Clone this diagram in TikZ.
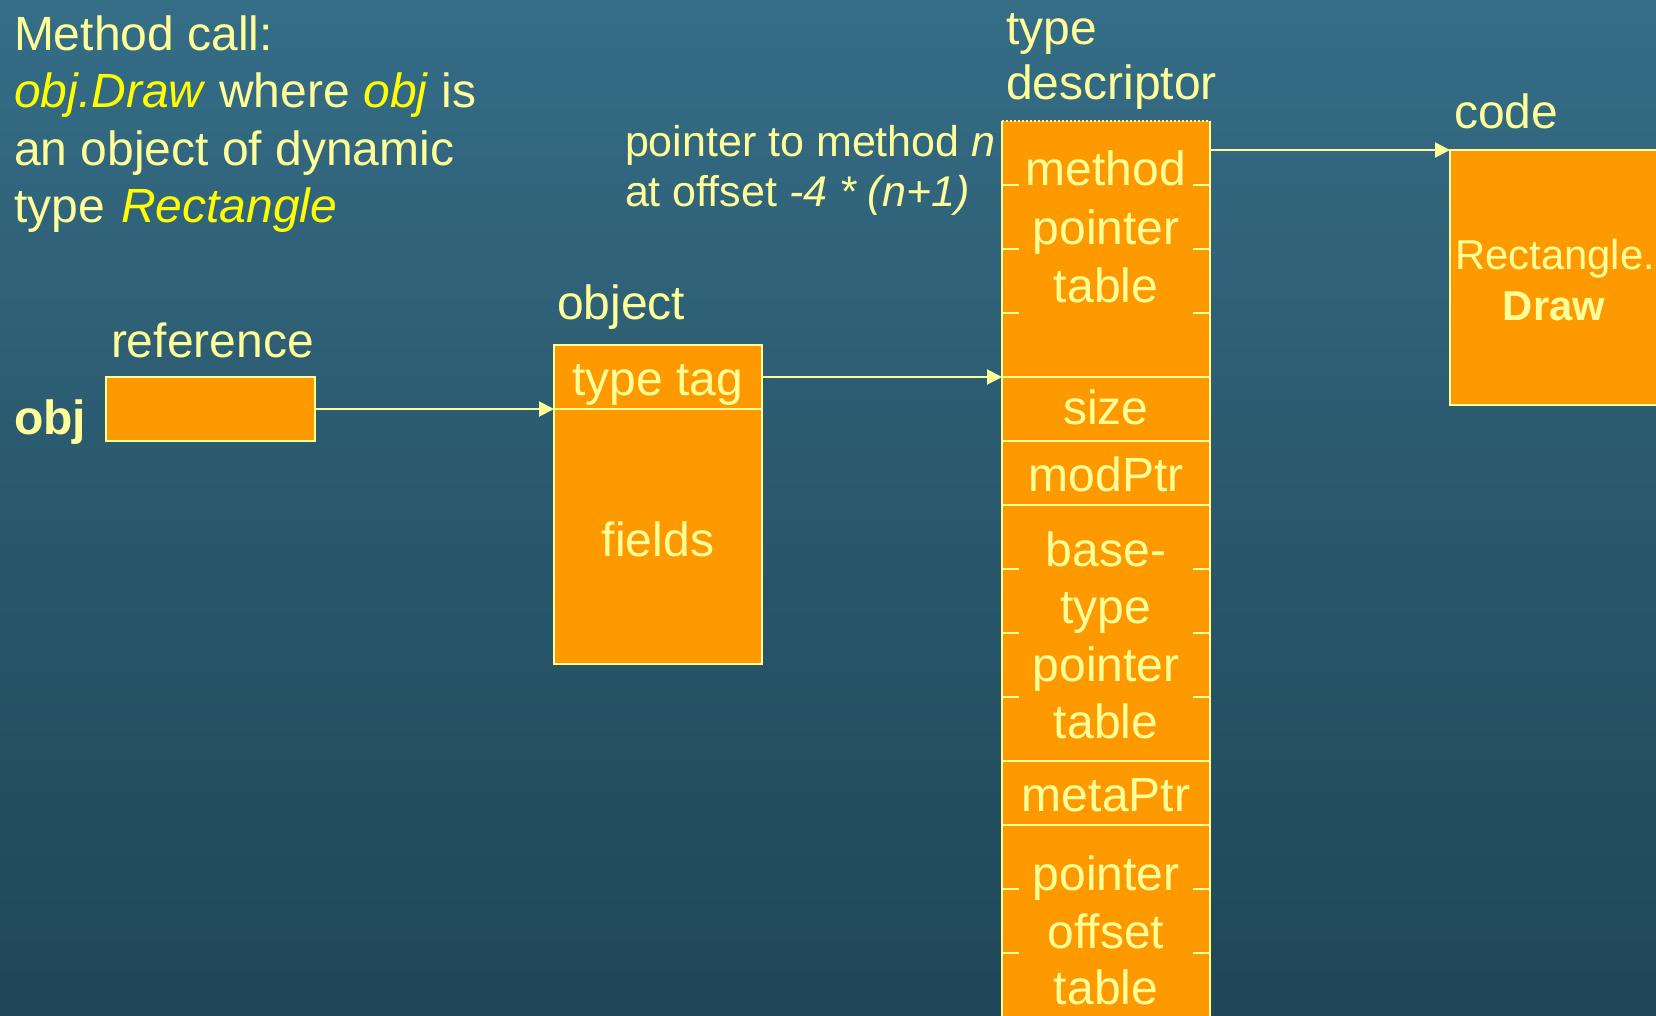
\documentclass[tikz,border=0pt]{standalone}
\usepackage{fontspec}
\setmainfont{Liberation Sans}
\usetikzlibrary{arrows.meta}

\definecolor{bgtop}{RGB}{53,109,135}
\definecolor{bgmid}{RGB}{42,88,108}
\definecolor{bgbot}{RGB}{31,71,87}
\definecolor{paleyel}{RGB}{255,255,153}
\definecolor{hiyel}{RGB}{255,255,0}
\definecolor{boxorange}{RGB}{255,153,0}

\tikzset{
  cell/.style={draw=paleyel, fill=boxorange, line width=2pt, inner sep=0pt,
    outer sep=0pt, minimum width=208pt, anchor=north west},
  edge/.style={draw=paleyel, line width=2pt},
  tick/.style={draw=paleyel, line width=2pt},
  arr/.style={draw=paleyel, line width=2pt,
    -{Triangle[length=15pt, width=15pt]}, fill=paleyel},
  txt/.style={text=paleyel, inner sep=0pt, outer sep=0pt,
    font=\fontsize{48}{58}\selectfont},
  lft/.style={txt, anchor=base west},
  mid/.style={txt, anchor=base},
  small/.style={font=\fontsize{43}{52}\selectfont},
  codefont/.style={font=\fontsize{41.8}{50}\selectfont},
}

\begin{document}
\begin{tikzpicture}[x=1pt, y=-1pt]
  % page and background
  \useasboundingbox (0,0) rectangle (1656,1015);
  \shade[top color=bgtop, bottom color=bgbot, middle color=bgmid]
    (0,0) rectangle (1656,1015);
  \clip (0,0) rectangle (1656,1015);

  % explanation text
  \node[lft] (call1) at (14,50) {Method call:};
  \node[lft] (call2) at (14,107)
    {\textcolor{hiyel}{\textit{obj.Draw}} where \textcolor{hiyel}{\textit{obj}} is};
  \node[lft] (call3) at (14,165) {an object of dynamic};
  \node[lft] (call4) at (14,222) {type\hspace{3pt} \textcolor{hiyel}{\textit{Rectangle}}};

  % reference variable
  \node[lft] (reflbl) at (111,357) {reference};
  \node[lft, font=\fontsize{48}{58}\selectfont\bfseries] (objlbl) at (14,434) {obj};
  \node[cell, minimum width=209pt, minimum height=64pt] (ref) at (106,377) {};

  % object on the heap
  \node[lft] (objectlbl) at (557,319) {object};
  \node[cell, minimum height=64pt] (tag) at (554,345) {};
  \node[cell, minimum height=255pt] (fields) at (554,409) {};
  \node[mid] (tagtxt) at (658,395) {type tag};
  \node[mid] (fieldstxt) at (658,556) {fields};

  % type descriptor column
  \node[lft] (tdlbl1) at (1006,44) {type};
  \node[lft] (tdlbl2) at (1006,99) {descriptor};

  \node[cell, draw=none, minimum height=256pt] (mpt) at (1002,121) {};
  \draw[edge] (mpt.north west) -- (mpt.south west) -- (mpt.south east) -- (mpt.north east);
  \draw[edge, dash pattern=on 2pt off 2pt] (mpt.north west) -- (mpt.north east);
  \node[cell, minimum height=64pt] (size) at (1002,377) {};
  \node[cell, minimum height=64pt] (mod) at (1002,441) {};
  \node[cell, minimum height=256pt] (base) at (1002,505) {};
  \node[cell, minimum height=64pt] (meta) at (1002,761) {};
  \node[cell, minimum height=240pt] (pot) at (1002,825) {};

  % short grid marks inside multi-slot entries
  \foreach \dy in {64,128,192} {
    \draw[tick] ([yshift=-\dy pt]mpt.north west) -- ++(17,0);
    \draw[tick] ([yshift=-\dy pt]mpt.north east) -- ++(-17,0);
    \draw[tick] ([yshift=-\dy pt]base.north west) -- ++(17,0);
    \draw[tick] ([yshift=-\dy pt]base.north east) -- ++(-17,0);
  }
  \foreach \dy in {64,128} {
    \draw[tick] ([yshift=-\dy pt]pot.north west) -- ++(17,0);
    \draw[tick] ([yshift=-\dy pt]pot.north east) -- ++(-17,0);
  }

  % column labels
  \node[mid] (m1) at (1106,185) {method};
  \node[mid] (m2) at (1106,244) {pointer};
  \node[mid] (m3) at (1106,302) {table};
  \node[mid] (sz) at (1106,424) {size};
  \node[mid] (md) at (1106,491) {modPtr};
  \node[mid] (b1) at (1106,566) {base-};
  \node[mid] (b2) at (1106,623) {type};
  \node[mid] (b3) at (1106,681) {pointer};
  \node[mid] (b4) at (1106,738) {table};
  \node[mid] (mp) at (1106,811) {metaPtr};
  \node[mid] (p1) at (1106,890) {pointer};
  \node[mid] (p2) at (1106,948) {offset};
  \node[mid] (p3) at (1106,1004) {table};

  % note on method slots
  \node[lft, small] (note1) at (625,156) {pointer to method \textit{n}};
  \node[lft, small] (note2) at (625,206) {at offset \textit{-4 * (n+1)}};

  % code of the method
  \node[lft] (codelbl) at (1454,128) {code};
  \node[cell, minimum height=255pt] (code) at (1450,150) {};
  \node[mid, codefont] (codetxt1) at (1555,269) {Rectangle.};
  \node[mid, font=\fontsize{41.8}{50}\selectfont\bfseries] (codetxt2) at (1554,320) {Draw};

  % pointers
  \draw[arr] (ref.east) -- (tag.south west);
  \draw[arr] (tag.east) -- (mpt.south west);
  \draw[arr] (code.north west -| mpt.east) -- (code.north west);
\end{tikzpicture}
\end{document}
